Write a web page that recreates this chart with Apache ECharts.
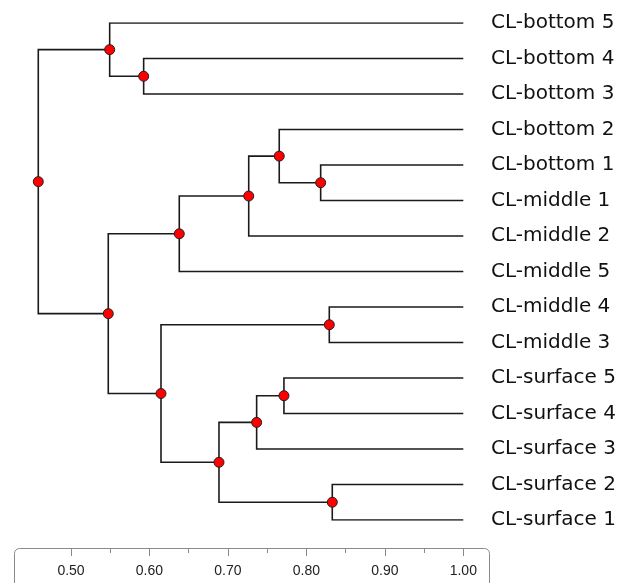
<!DOCTYPE html>
<html>
<head>
<meta charset="utf-8">
<script src="https://cdn.jsdelivr.net/npm/echarts@6/dist/echarts.min.js"></script>
<style>html,body{margin:0;padding:0;background:#fff;}#c{width:622px;height:583px;}</style>
</head>
<body>
<div id="c"></div>
<script>
// Leaves, top to bottom
const leafNames = ['CL-bottom 5','CL-bottom 4','CL-bottom 3','CL-bottom 2','CL-bottom 1',
  'CL-middle 1','CL-middle 2','CL-middle 5','CL-middle 4','CL-middle 3',
  'CL-surface 5','CL-surface 4','CL-surface 3','CL-surface 2','CL-surface 1'];
const leafHeight = 1.0;
// Merges: node id = 15 + index; children reference leaf index or node id
const mergeA = [1, 0, 4, 3, 18, 19, 8, 10, 22, 13, 23, 21, 20, 16];
const mergeB = [2, 15, 5, 17, 6, 7, 9, 11, 12, 14, 24, 25, 26, 27];
const mergeHeight = [0.5926, 0.5493, 0.8182, 0.7654, 0.7265, 0.6380, 0.8292, 0.7714, 0.7366, 0.8330, 0.6886, 0.6147, 0.5475, 0.4583];
const majorTicks = [0.5, 0.6, 0.7, 0.8, 0.9, 1.0];
const minorTicks = [0.55, 0.65, 0.75, 0.85, 0.95];
const axisMin = 0.42735, axisMax = 1.03275;

const H = [], Y = [];
leafNames.forEach((n, i) => { H.push(leafHeight); Y.push(i); });
const segs = [], nodes = [];
for (let k = 0; k < mergeA.length; k++) {
  const a = mergeA[k], b = mergeB[k], h = mergeHeight[k];
  const y = (Y[a] + Y[b]) / 2;
  H.push(h); Y.push(y);
  segs.push({coords: [[H[a], Y[a]], [h, Y[a]], [h, Y[b]], [H[b], Y[b]]]});
  nodes.push([h, y]);
}

const tickAxis = (vals, len) => ({
  gridIndex: 1, type: 'value', position: 'top', min: axisMin, max: axisMax,
  axisLine: {show: false, onZero: false}, splitLine: {show: false},
  axisTick: {show: true, inside: true, length: len, customValues: vals, lineStyle: {color: '#8a8a8a'}},
  axisLabel: {show: false}
});

const chart = echarts.init(document.getElementById('c'), null, {renderer: 'canvas'});
chart.setOption({
  animation: false,
  backgroundColor: '#fff',
  grid: [
    {left: 14, right: 133, top: 23, bottom: 63},
    {left: 14, right: 133, top: 548, bottom: 0}
  ],
  xAxis: [
    {gridIndex: 0, type: 'value', position: 'bottom', offset: 28, min: axisMin, max: axisMax,
      axisLine: {show: false, onZero: false}, splitLine: {show: false}, axisTick: {show: false},
      axisLabel: {show: true, margin: 16, customValues: majorTicks.slice(),
        formatter: v => Number(v).toFixed(2), fontSize: 14, fontFamily: 'Liberation Sans', color: '#222'}},
    tickAxis(minorTicks.slice(), 5),
    tickAxis(majorTicks.map(v => v + 1e-7), 8)
  ],
  yAxis: [
    {gridIndex: 0, type: 'value', inverse: true, min: 0, max: leafNames.length - 1, interval: 1, position: 'right',
      axisLine: {show: false, onZero: false}, axisTick: {show: false}, splitLine: {show: false},
      axisLabel: {margin: 2, formatter: v => leafNames[v] || '', fontSize: 20, fontFamily: 'DejaVu Sans', color: '#111'}},
    {gridIndex: 1, type: 'value', min: 0, max: 1, show: false}
  ],
  graphic: [{
    type: 'rect', silent: true,
    shape: {x: 14.5, y: 548.5, width: 475, height: 60, r: [5, 5, 0, 0]},
    style: {fill: 'none', stroke: '#8a8a8a', lineWidth: 1}
  }],
  series: [
    {type: 'lines', coordinateSystem: 'cartesian2d', xAxisIndex: 0, yAxisIndex: 0, polyline: true,
      data: segs, lineStyle: {color: '#1a1a1a', width: 1.6, opacity: 1}, silent: true, z: 2},
    {type: 'scatter', xAxisIndex: 0, yAxisIndex: 0, data: nodes, symbol: 'circle', symbolSize: 10,
      itemStyle: {color: '#ff0000', borderColor: '#222', borderWidth: 1, opacity: 1}, silent: true, z: 3}
  ]
});
</script>
</body>
</html>
